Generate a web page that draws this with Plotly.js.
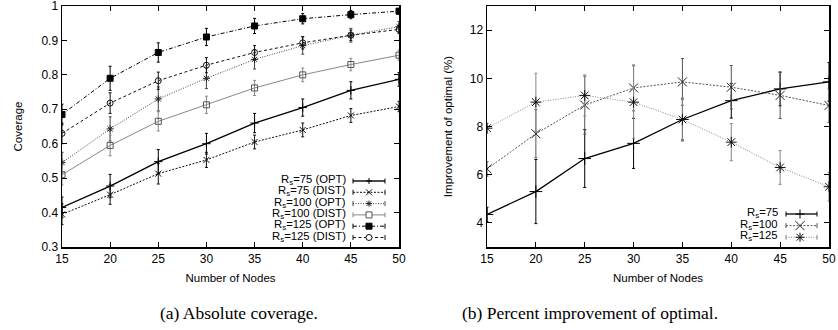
<!DOCTYPE html>
<html>
<head>
<meta charset="utf-8">
<script src="https://cdn.plot.ly/plotly-3.0.1.min.js"></script>
<style>html,body{margin:0;padding:0;background:#fff;}#chart{width:838px;height:330px;}</style>
</head>
<body>
<div id="chart"></div>
<script>
// ---- data ----
const nodes = [15, 20, 25, 30, 35, 40, 45, 50];

// (a) Absolute coverage
const cov75Opt      = [0.415, 0.477, 0.548, 0.600, 0.660, 0.705, 0.755, 0.787];
const cov75OptErr   = [0.030, 0.034, 0.035, 0.030, 0.028, 0.025, 0.025, 0.020];
const cov75Dist     = [0.395, 0.452, 0.513, 0.553, 0.605, 0.640, 0.682, 0.708];
const cov75DistErr  = [0.030, 0.028, 0.030, 0.022, 0.020, 0.020, 0.020, 0.015];
const cov100Opt     = [0.545, 0.643, 0.730, 0.790, 0.845, 0.885, 0.915, 0.940];
const cov100OptErr  = [0.030, 0.035, 0.035, 0.030, 0.028, 0.025, 0.020, 0.015];
const cov100Dist    = [0.510, 0.595, 0.665, 0.713, 0.762, 0.800, 0.830, 0.857];
const cov100DistErr = [0.030, 0.030, 0.028, 0.025, 0.022, 0.020, 0.018, 0.015];
const cov125Opt     = [0.685, 0.790, 0.865, 0.910, 0.942, 0.963, 0.975, 0.985];
const cov125OptErr  = [0.030, 0.035, 0.028, 0.025, 0.022, 0.015, 0.012, 0.008];
const cov125Dist    = [0.630, 0.718, 0.783, 0.828, 0.865, 0.893, 0.915, 0.932];
const cov125DistErr = [0.030, 0.030, 0.025, 0.022, 0.020, 0.018, 0.015, 0.012];

// (b) Percent improvement of optimal
const imp75     = [4.35, 5.30, 6.67, 7.30, 8.29, 9.07, 9.56, 9.85];
const imp75Err  = [0.30, 1.33, 1.20, 1.04, 0.85, 0.72, 0.70, 0.80];
const imp100    = [6.24, 7.70, 8.89, 9.60, 9.85, 9.63, 9.29, 8.87];
const imp100Err = [0.30, 1.00, 1.20, 0.95, 0.97, 0.90, 0.96, 0.70];
const imp125    = [7.93, 9.01, 9.29, 9.01, 8.29, 7.35, 6.30, 5.50];
const imp125Err = [0.20, 1.20, 0.85, 1.50, 0.90, 0.77, 0.70, 0.60];

const covTicks = [0.3, 0.4, 0.5, 0.6, 0.7, 0.8, 0.9, 1];
const covTickText = ['0.3', '0.4', '0.5', '0.6', '0.7', '0.8', '0.9', '1'];
const impTicks = [4, 6, 8, 10, 12];

const labelsA = ['R<sub>s</sub>=75 (OPT)', 'R<sub>s</sub>=75 (DIST)', 'R<sub>s</sub>=100 (OPT)',
                 'R<sub>s</sub>=100 (DIST)', 'R<sub>s</sub>=125 (OPT)', 'R<sub>s</sub>=125 (DIST)'];
const labelsB = ['R<sub>s</sub>=75', 'R<sub>s</sub>=100', 'R<sub>s</sub>=125'];
const captionA = '(a) Absolute coverage.';
const captionB = '(b) Percent improvement of optimal.';

// ---- styles ----
const stylesA = [
  {color: '#000000', mcolor: '#000000', dash: 'solid',           width: 1.4, symbol: 'cross-thin-open', size: 6, glyph: 'plus'},
  {color: '#111111', mcolor: '#111111', dash: '2px,1.5px',       width: 1.0, symbol: 'x-thin-open',     size: 6, glyph: 'x'},
  {color: '#444444', mcolor: '#222222', dash: '1px,1.5px',       width: 1.0, symbol: 'asterisk-open',   size: 6, glyph: 'asterisk'},
  {color: '#888888', mcolor: '#555555', dash: 'solid',           width: 1.0, symbol: 'square-open',     size: 6, glyph: 'square-open'},
  {color: '#000000', mcolor: '#000000', dash: '4px,2px,1px,2px', width: 1.0, symbol: 'square',          size: 6, glyph: 'square'},
  {color: '#111111', mcolor: '#111111', dash: '3px,2.5px',       width: 1.0, symbol: 'circle-open',     size: 6, glyph: 'circle-open'}
];
const stylesB = [
  {color: '#000000', mcolor: '#000000', dash: 'solid',     width: 1.3, symbol: 'cross-thin-open', size: 9, glyph: 'plus'},
  {color: '#555555', mcolor: '#222222', dash: '2px,1.5px', width: 1.0, symbol: 'x-thin-open',     size: 9, glyph: 'x'},
  {color: '#888888', mcolor: '#111111', dash: '1px,1.5px', width: 1.0, symbol: 'asterisk-open',   size: 9, glyph: 'asterisk'}
];

function tr(y, err, name, s, xa, ya) {
  return {
    type: 'scatter', mode: 'lines+markers', x: nodes, y: y, name: name, xaxis: xa, yaxis: ya,
    showlegend: false,
    line: {color: s.color, dash: s.dash, width: s.width},
    marker: {symbol: s.symbol, size: s.size, color: s.mcolor, line: {color: s.mcolor, width: 1}},
    error_y: {type: 'data', array: err, visible: true, color: s.color, thickness: 1, width: 1.5}
  };
}

const seriesA = [[cov75Opt, cov75OptErr], [cov75Dist, cov75DistErr], [cov100Opt, cov100OptErr],
                 [cov100Dist, cov100DistErr], [cov125Opt, cov125OptErr], [cov125Dist, cov125DistErr]];
const seriesB = [[imp75, imp75Err], [imp100, imp100Err], [imp125, imp125Err]];

const data = [];
seriesA.forEach((s, i) => data.push(tr(s[0], s[1], labelsA[i], stylesA[i], 'x', 'y')));
seriesB.forEach((s, i) => data.push(tr(s[0], s[1], labelsB[i], stylesB[i], 'x2', 'y2')));

// ---- geometry (pixel -> paper helpers for the gnuplot-style key) ----
const W = 838, H = 330, ML = 62, MR = 9, MT = 6, MB = 83;
const PW = W - ML - MR, PH = H - MT - MB;
const px = v => (v - ML) / PW;
const py = v => (H - MB - v) / PH;

const shapes = [];
const annotations = [];

function keyEntry(label, s, textRight, lineX0, lineX1, markX, rowY, half) {
  annotations.push({text: label, xref: 'paper', yref: 'paper', x: px(textRight), y: py(rowY - 1),
    xanchor: 'right', yanchor: 'middle', showarrow: false, borderpad: 0,
    font: {family: 'Liberation Sans, Arial, sans-serif', size: 11.3, color: '#000'}});
  const ln = {color: s.color, width: s.width, dash: s.dash};
  shapes.push({type: 'line', xref: 'paper', yref: 'paper', x0: px(lineX0), x1: px(lineX1), y0: py(rowY), y1: py(rowY), line: ln});
  [lineX0, lineX1].forEach(xe => shapes.push({type: 'line', xref: 'paper', yref: 'paper',
    x0: px(xe), x1: px(xe), y0: py(rowY - 2.5), y1: py(rowY + 2.5), line: {color: s.color, width: 1}}));
  const ml = {color: s.mcolor, width: 1};
  const g = s.glyph;
  if (g === 'plus' || g === 'asterisk') {
    shapes.push({type: 'line', xref: 'paper', yref: 'paper', x0: px(markX - half), x1: px(markX + half), y0: py(rowY), y1: py(rowY), line: ml});
    shapes.push({type: 'line', xref: 'paper', yref: 'paper', x0: px(markX), x1: px(markX), y0: py(rowY - half), y1: py(rowY + half), line: ml});
  }
  if (g === 'x' || g === 'asterisk') {
    const d = g === 'asterisk' ? half * 0.75 : half;
    shapes.push({type: 'line', xref: 'paper', yref: 'paper', x0: px(markX - d), x1: px(markX + d), y0: py(rowY - d), y1: py(rowY + d), line: ml});
    shapes.push({type: 'line', xref: 'paper', yref: 'paper', x0: px(markX - d), x1: px(markX + d), y0: py(rowY + d), y1: py(rowY - d), line: ml});
  }
  if (g === 'square' || g === 'square-open') {
    shapes.push({type: 'rect', xref: 'paper', yref: 'paper', x0: px(markX - half), x1: px(markX + half),
      y0: py(rowY + half), y1: py(rowY - half), line: ml, fillcolor: g === 'square' ? s.mcolor : '#ffffff'});
  }
  if (g === 'circle-open') {
    shapes.push({type: 'circle', xref: 'paper', yref: 'paper', x0: px(markX - half), x1: px(markX + half),
      y0: py(rowY + half), y1: py(rowY - half), line: ml, fillcolor: '#ffffff'});
  }
}

labelsA.forEach((lab, i) => keyEntry(lab, stylesA[i], 347, 353, 385, 369, 181 + 11.3 * i, 3));
labelsB.forEach((lab, i) => keyEntry(lab, stylesB[i], 779, 786, 817, 800, 214 + 11.65 * i, 4.5));

annotations.push(
  {text: captionA, xref: 'paper', yref: 'paper', x: px(238.5), y: py(313), showarrow: false,
   xanchor: 'center', yanchor: 'middle', font: {family: 'Liberation Serif, serif', size: 17.5, color: '#000'}},
  {text: captionB, xref: 'paper', yref: 'paper', x: px(590), y: py(313), showarrow: false,
   xanchor: 'center', yanchor: 'middle', font: {family: 'Liberation Serif, serif', size: 17.5, color: '#000'}}
);

function xax(domain, anchor) {
  return {domain: domain, anchor: anchor, range: [15, 50], tickvals: nodes, ticks: 'inside', ticklen: 5,
    tickwidth: 1, tickcolor: '#000', showline: true, linecolor: '#000', linewidth: 1.5, mirror: 'ticks',
    showgrid: false, zeroline: false, tickfont: {size: 12}, ticklabeloverflow: 'allow',
    title: {text: 'Number of Nodes', font: {size: 11.5}, standoff: 9}};
}
function yax(domain, anchor, range, tickvals, ticktext, title, standoff) {
  const a = {domain: domain, anchor: anchor, range: range, tickmode: 'array', tickvals: tickvals, ticks: 'inside', ticklen: 5,
    tickwidth: 1, tickcolor: '#000', showline: true, linecolor: '#000', linewidth: 1.5, mirror: 'ticks',
    showgrid: false, zeroline: false, tickfont: {size: 12}, ticklabeloverflow: 'allow',
    title: {text: title, font: {size: 11.5}, standoff: standoff}};
  if (ticktext) a.ticktext = ticktext;
  return a;
}

const layout = {
  width: W, height: H,
  margin: {l: ML, r: MR, t: MT, b: MB},
  paper_bgcolor: '#fff', plot_bgcolor: '#fff',
  font: {family: 'Liberation Sans, Arial, sans-serif', size: 12, color: '#000'},
  showlegend: false,
  xaxis: xax([0, px(399)], 'y'),
  yaxis: yax([0, 1], 'x', [0.3, 1.0], covTicks, covTickText, 'Coverage', 16),
  xaxis2: xax([px(487), 1], 'y2'),
  yaxis2: yax([0, 1], 'x2', [3, 13], impTicks, null, 'Improvement of optimal (%)', 14),
  shapes: shapes,
  annotations: annotations
};

Plotly.newPlot('chart', data, layout, {displayModeBar: false, staticPlot: true});
</script>
</body>
</html>
